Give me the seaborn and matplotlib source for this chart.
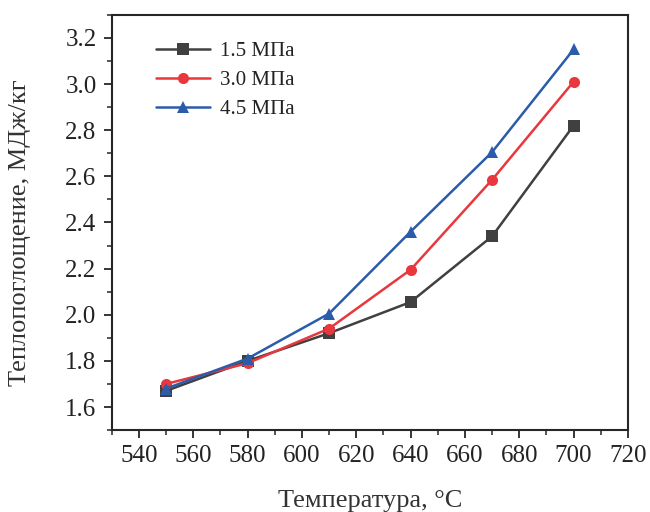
import pandas as pd
import numpy as np
import matplotlib.pyplot as plt
import seaborn as sns
from matplotlib.ticker import MultipleLocator

# data
temps = [550, 580, 610, 640, 670, 700]
p15 = [1.67, 1.80, 1.92, 2.055, 2.34, 2.82]
p30 = [1.70, 1.79, 1.94, 2.195, 2.585, 3.01]
p45 = [1.68, 1.81, 2.005, 2.36, 2.705, 3.15]
labels = ['1.5 МПа', '3.0 МПа', '4.5 МПа']

df = pd.DataFrame({
    'T': temps * 3,
    'Q': p15 + p30 + p45,
    'p': [labels[0]] * 6 + [labels[1]] * 6 + [labels[2]] * 6,
})

sns.set_style('ticks')
plt.rcParams['font.family'] = ['Liberation Serif', 'DejaVu Serif']

colors = {labels[0]: '#404040', labels[1]: '#e8383d', labels[2]: '#2a5caa'}
markers = {labels[0]: 's', labels[1]: 'o', labels[2]: '^'}

fig, ax = plt.subplots(figsize=(6.5, 5.12), dpi=100)
sns.lineplot(data=df, x='T', y='Q', hue='p', style='p', palette=colors,
             markers=markers, dashes=False, markersize=8, linewidth=1.8,
             markeredgewidth=0, ax=ax)

ax.set_xlim(530, 720)
ax.set_ylim(1.5, 3.3)
ax.xaxis.set_major_locator(MultipleLocator(20))
ax.xaxis.set_minor_locator(MultipleLocator(10))
ax.yaxis.set_major_locator(MultipleLocator(0.2))
ax.yaxis.set_minor_locator(MultipleLocator(0.1))
ax.yaxis.set_major_formatter(plt.FormatStrFormatter('%.1f'))
ax.tick_params(which='major', direction='out', length=6, width=1.3,
               labelsize=18, labelcolor='#222222', pad=5)
ax.tick_params(which='minor', direction='out', length=3.5, width=1.1)
for s in ax.spines.values():
    s.set_linewidth(1.5)

ax.set_xlabel('Температура, °C', fontsize=19, color='#333333', labelpad=16)
ax.set_ylabel('Теплопоглощение, МДж/кг', fontsize=19, color='#333333')
ax.yaxis.set_label_coords(-0.157, 0.475)

leg = ax.legend(loc='upper left', frameon=False, fontsize=15, handlelength=2.6,
                bbox_to_anchor=(0.045, 0.985), borderaxespad=0.6, labelspacing=0.45,
                handletextpad=0.5)
leg.set_title(None)
for t in leg.get_texts():
    t.set_color('#222222')

fig.subplots_adjust(left=0.172, right=0.966, top=0.971, bottom=0.16)
fig.savefig('out.png', dpi=100)
